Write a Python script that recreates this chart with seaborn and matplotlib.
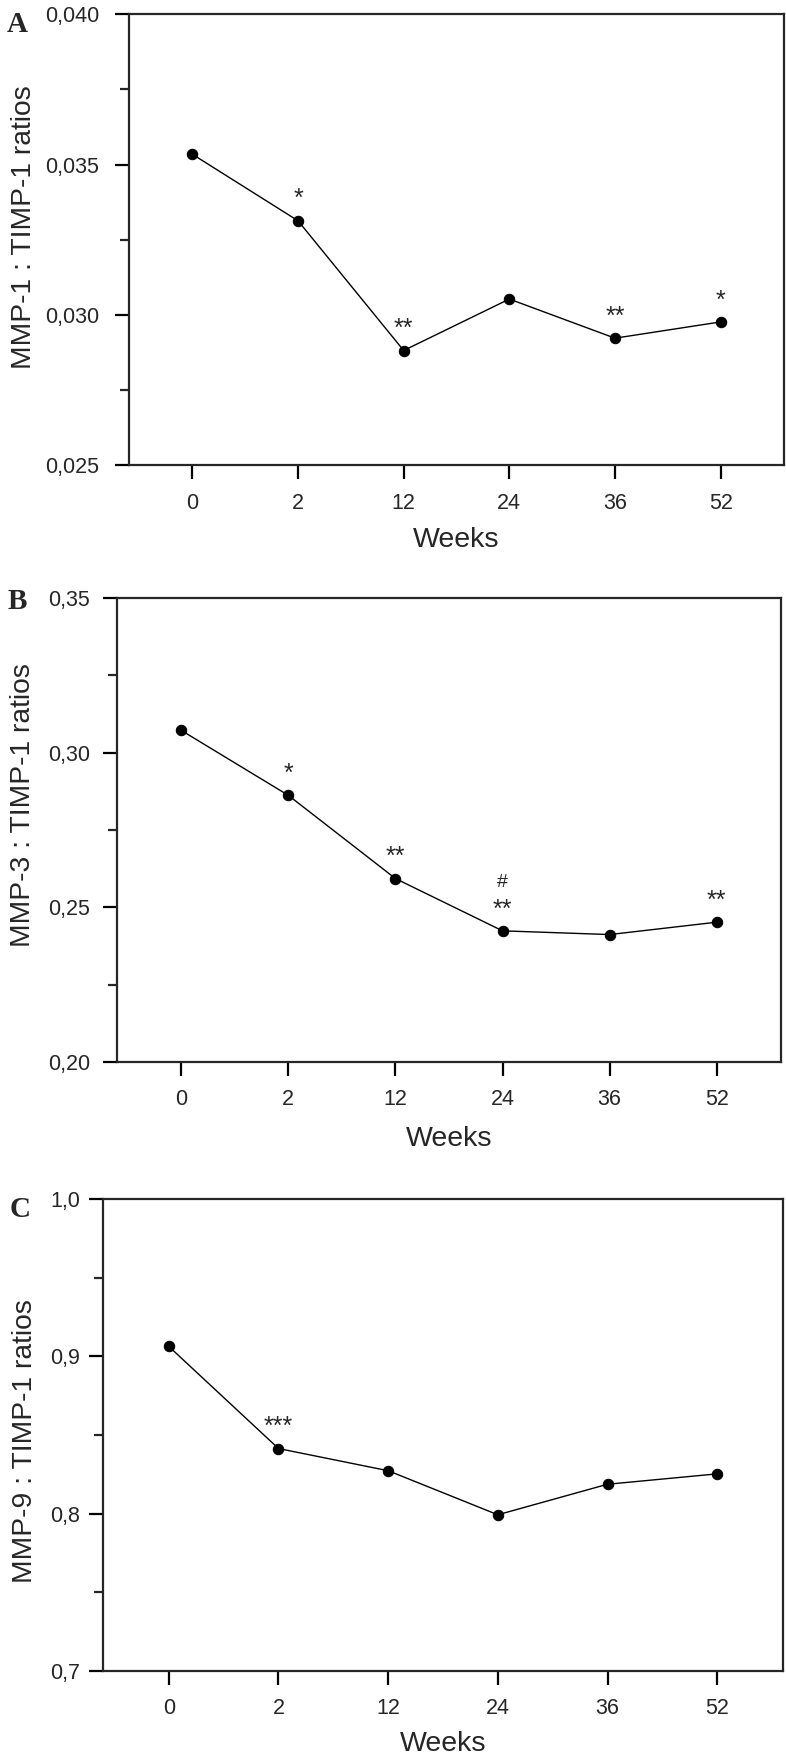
import numpy as np
import matplotlib
matplotlib.use("Agg")
import matplotlib.pyplot as plt
from matplotlib.ticker import FixedLocator, FuncFormatter
import seaborn as sns
import pandas as pd

weeks = ["0", "2", "12", "24", "36", "52"]

mmp1 = [0.03534, 0.03313, 0.02882, 0.03053, 0.02923, 0.02977]
mmp3 = [0.3072, 0.2862, 0.2593, 0.2424, 0.2412, 0.2452]
mmp9 = [0.9063, 0.8414, 0.8273, 0.7993, 0.8187, 0.8253]

stars1 = ["", "*", "**", "", "**", "*"]
stars3 = ["", "*", "**", "**", "", "**"]
stars9 = ["", "***", "", "", "", ""]
hash3 = ["", "", "", "#", "", ""]

ylabels = ["MMP-1 : TIMP-1 ratios", "MMP-3 : TIMP-1 ratios", "MMP-9 : TIMP-1 ratios"]
yticks = [[0.025, 0.030, 0.035, 0.040], [0.20, 0.25, 0.30, 0.35], [0.7, 0.8, 0.9, 1.0]]
ytick_fmt = ["{:.3f}", "{:.2f}", "{:.1f}"]
letters = ["A", "B", "C"]

sns.set_style("ticks")
plt.rcParams["font.family"] = ["Liberation Sans", "DejaVu Sans"]

W, H = 786, 1761
fig = plt.figure(figsize=(W / 100, H / 100), dpi=100)

# axes boxes in pixels: left, top, right, bottom
boxes = [(129, 14, 784, 465.5), (117, 598, 781, 1062), (103, 1199, 783, 1671)]
ylab_x = [-0.141, -0.122, -0.096]
ylab_y = [0.528, 0.554, 0.488]
ypads = [11.5, 9.5, 6.5]
xlab_off = [62, 64, 60]
letter_pos = [(7, 32), (8, 609), (10, 1217)]

series = [mmp1, mmp3, mmp9]
stars = [stars1, stars3, stars9]
hashes = [[""] * 6, hash3, [""] * 6]

for i in range(3):
    l, t, r, b = boxes[i]
    ax = fig.add_axes([l / W, 1 - b / H, (r - l) / W, (b - t) / H])
    df = pd.DataFrame({"Weeks": weeks, "ratio": series[i]})
    sns.pointplot(data=df, x="Weeks", y="ratio", color="black", errorbar=None,
                  markers="o", markersize=7.5, linewidth=1.0, ax=ax)

    ax.set_xlim(-0.6, 5.6)
    yt = yticks[i]
    ax.set_ylim(yt[0], yt[-1])
    ax.yaxis.set_major_locator(FixedLocator(yt))
    minors = [(yt[k] + yt[k + 1]) / 2 for k in range(len(yt) - 1)]
    ax.yaxis.set_minor_locator(FixedLocator(minors))
    fmt = ytick_fmt[i]
    ax.yaxis.set_major_formatter(FuncFormatter(lambda v, p, f=fmt: f.format(v).replace(".", ",")))

    for s in ax.spines.values():
        s.set_linewidth(1.6)
        s.set_visible(True)
    ax.tick_params(axis="both", which="major", direction="out", length=10, width=1.6,
                   labelsize=15.5, color="black")
    ax.tick_params(axis="x", which="major", pad=9.5)
    ax.tick_params(axis="y", which="major", pad=ypads[i])
    ax.tick_params(axis="y", which="minor", direction="out", length=6.5, width=1.6)

    ax.set_ylabel(ylabels[i], fontsize=20.3)
    ax.yaxis.set_label_coords(ylab_x[i], ylab_y[i])
    ax.set_xlabel("Weeks", fontsize=20.5)
    ax.xaxis.set_label_coords(0.5, -xlab_off[i] / (b - t))

    for k in range(6):
        if stars[i][k]:
            ax.annotate(stars[i][k], (k, series[i][k]), xytext=(0, 10.4),
                        textcoords="offset points", ha="center", va="baseline", fontsize=18)
        if hashes[i][k]:
            ax.annotate(hashes[i][k], (k, series[i][k]), xytext=(0, 31.5),
                        textcoords="offset points", ha="center", va="baseline", fontsize=14)

    lx, ly = letter_pos[i]
    fig.text(lx / W, 1 - ly / H, letters[i], fontsize=21, fontweight="bold",
             family=["Liberation Serif", "DejaVu Serif"], ha="left", va="baseline")

fig.savefig("out.png", dpi=100, facecolor="white")
